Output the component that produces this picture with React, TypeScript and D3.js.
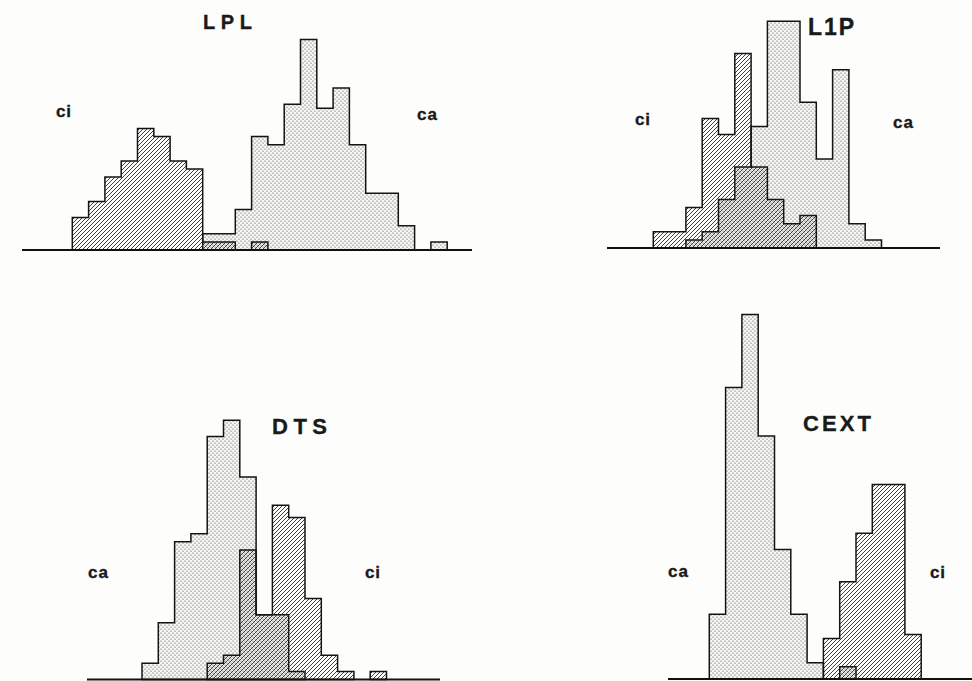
import * as d3 from 'd3';

// bin counts (one unit = one specimen)
const lplCi = [4, 6, 9, 11, 15, 14, 11, 10, 1, 1, 0, 1, 0, 0, 0, 0, 0, 0, 0, 0, 0, 0, 0];
const lplCa = [0, 0, 0, 0, 0, 0, 0, 0, 2, 2, 5, 14, 13, 18, 26, 17.5, 20, 13, 7, 7, 3, 0, 1];

const l1pCi = [2, 2, 5, 16, 14, 24, 10, 6, 3, 4, 0, 0, 0, 0];
const l1pCa = [0, 0, 1, 2, 6, 10, 15, 28, 28, 18, 11, 22, 3, 1];

const dtsCa = [2, 7, 17, 18, 30, 32, 25, 8, 8, 1, 0, 0, 0, 0, 0];
const dtsCi = [0, 0, 0, 0, 2, 3, 16, 8, 21.5, 20, 10, 3, 1, 0, 1];

const cextCa = [8, 36, 45, 30, 16, 8, 2, 0, 1.5, 0, 0, 0, 0];
const cextCi = [0, 0, 0, 0, 0, 0, 0, 5, 12, 18, 24, 24, 5.5];

const titles = ['LPL', 'L1P', 'DTS', 'CEXT'];

const W = 972;
const H = 681;
const binW = 16.3;
const unitPx = 8.1;
const font = '"Liberation Sans", Arial, Helvetica, sans-serif';
const ink = '#1a1a1a';

// layout of each panel (pixel positions)
const panels = [
  {
    title: titles[0], ci: lplCi, ca: lplCa, x0: 72.3, base: 250, axis: [22, 472],
    titlePos: [203, 29, 20, 49], ciPos: [56, 117], caPos: [417, 120],
  },
  {
    title: titles[1], ci: l1pCi, ca: l1pCa, x0: 653.3, base: 248, axis: [607, 940],
    titlePos: [808, 35, 23, 46], ciPos: [635, 125], caPos: [893, 128],
  },
  {
    title: titles[2], ci: dtsCi, ca: dtsCa, x0: 142, base: 679.5, axis: [87, 440],
    titlePos: [272, 434, 22, 55], ciPos: [365, 578], caPos: [88, 578],
  },
  {
    title: titles[3], ci: cextCi, ca: cextCa, x0: 709.3, base: 679, axis: [668, 972],
    titlePos: [803, 431, 22, 68], ciPos: [930, 578], caPos: [668, 577],
  },
];

type Pt = { i: number; v: number };

// split a series into runs of non-empty bins, closing each run with a trailing point
function runs(values: number[]): Pt[][] {
  const out: Pt[][] = [];
  let cur: Pt[] = [];
  const close = () => {
    const last = cur[cur.length - 1];
    cur.push({ i: last.i + 1, v: last.v });
    out.push(cur);
    cur = [];
  };
  values.forEach((v, i) => {
    if (v > 0) cur.push({ i, v });
    else if (cur.length) close();
  });
  if (cur.length) close();
  return out;
}

function Label({ x, y, size, len, children }) {
  return (
    <text x={x} y={y} fontSize={size} fontWeight="bold" fontFamily={font} fill={ink}
      stroke={ink} strokeWidth={0.35} textLength={len} lengthAdjust="spacing">{children}</text>
  );
}

function Panel({ p }) {
  const n = p.ci.length;
  const x = d3.scaleLinear().domain([0, n]).range([p.x0, p.x0 + n * binW]);
  const y = d3.scaleLinear().domain([0, 30]).range([p.base, p.base - 30 * unitPx]);
  const area = d3.area<Pt>()
    .curve(d3.curveStepAfter)
    .x(d => x(d.i))
    .y0(y(0))
    .y1(d => y(d.v));

  const [tx, ty, tsize, tlen] = p.titlePos;
  return (
    <g>
      {runs(p.ca).map((r, k) => (
        <path key={'ca' + k} d={area(r) || ''} fill="url(#dots)" stroke="#141414" strokeWidth={1.5} />
      ))}
      {runs(p.ci).map((r, k) => (
        <path key={'ci' + k} d={area(r) || ''} fill="url(#hatch)" stroke="#141414" strokeWidth={1.5} />
      ))}
      <line x1={p.axis[0]} x2={p.axis[1]} y1={p.base} y2={p.base} stroke="#111" strokeWidth={2} />
      <Label x={tx} y={ty} size={tsize} len={tlen}>{p.title}</Label>
      <Label x={p.ciPos[0]} y={p.ciPos[1]} size={17} len={15}>ci</Label>
      <Label x={p.caPos[0]} y={p.caPos[1]} size={17} len={20}>ca</Label>
    </g>
  );
}

export default function App() {
  return (
    <div style={{ position: 'absolute', left: 0, top: 0 }}>
      <svg width={W} height={H} viewBox={`0 0 ${W} ${H}`} style={{ display: 'block', background: '#fdfdfc' }}>
        <defs>
          <pattern id="dots" patternUnits="userSpaceOnUse" width={4} height={4}>
            <rect width={4} height={4} fill="#f6f6f4" />
            <circle cx={1} cy={1} r={0.6} fill="#444" />
            <circle cx={3} cy={3} r={0.6} fill="#444" />
          </pattern>
          <pattern id="hatch" patternUnits="userSpaceOnUse" width={4} height={4}>
            <path d="M-1,1 L1,-1 M0,4 L4,0 M3,5 L5,3" stroke="#2a2a2a" strokeWidth={0.9} />
          </pattern>
        </defs>
        {panels.map(p => <Panel key={p.title} p={p} />)}
      </svg>
    </div>
  );
}
